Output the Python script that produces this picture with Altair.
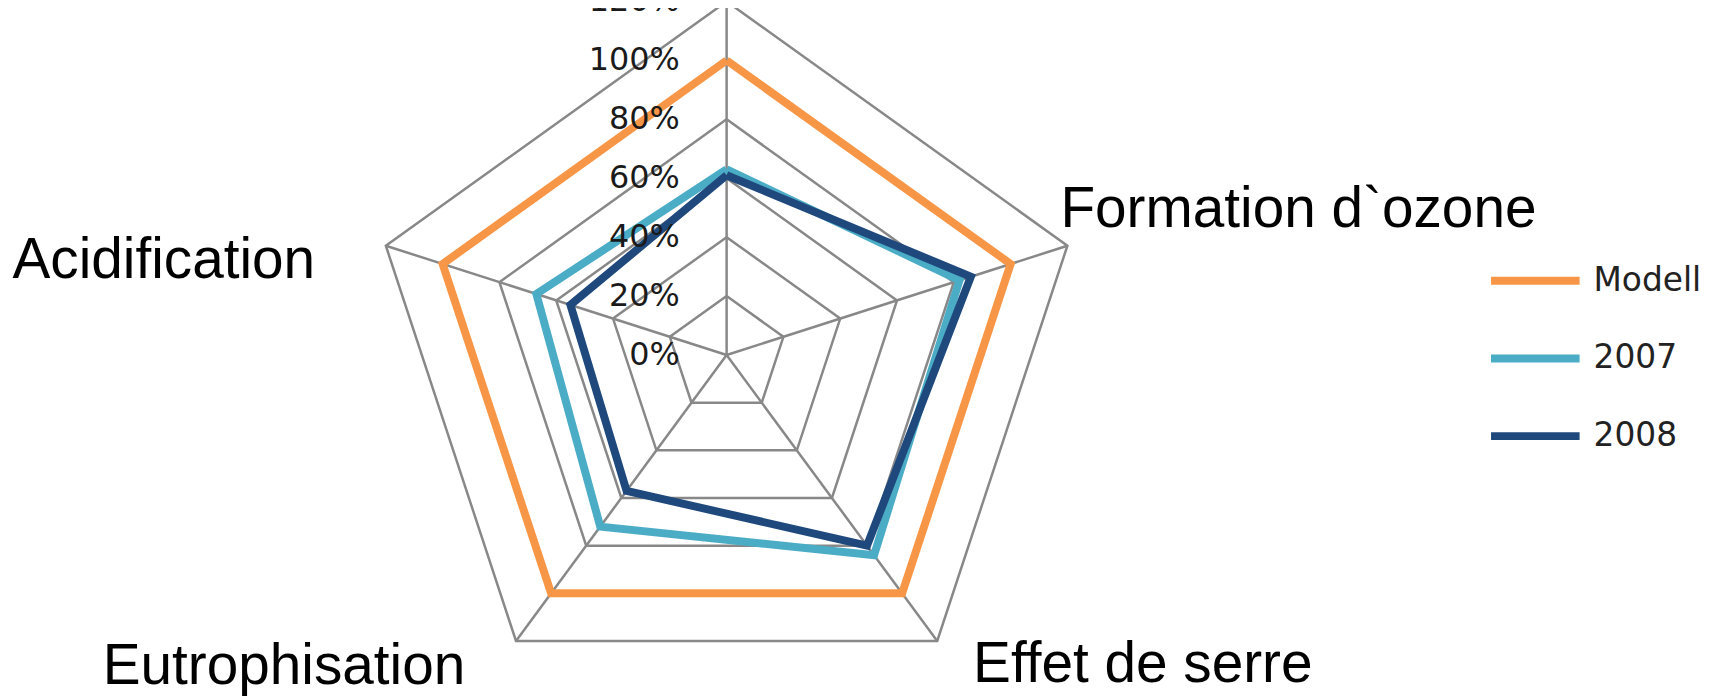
import altair as alt
import pandas as pd

# ---- data ----
categories = ["", "Formation d`ozone", "Effet de serre", "Eutrophisation", "Acidification"]
series_names = ["Modell", "2007", "2008"]
modell = [100, 100, 100, 100, 100]
y2007 = [63, 82, 84, 72, 67]
y2008 = [61, 86, 80, 57, 55]
ring_levels = [20, 40, 60, 80, 100, 120]
tick_values = [0, 20, 40, 60, 80, 100, 120]
tick_labels = ["0%", "20%", "40%", "60%", "80%", "100%", "120%"]
series_colors = ["#F79646", "#4BACC6", "#1F497D"]

N = len(categories)

series_rows = []
for name, vals in zip(series_names, [modell, y2007, y2008]):
    for k in range(N + 1):
        i = k % N
        series_rows.append({"series": name, "k": k, "idx": i, "value": vals[i]})
series_df = pd.DataFrame(series_rows)

ring_rows = []
for lvl in ring_levels:
    for k in range(N + 1):
        ring_rows.append({"level": lvl, "k": k, "idx": k % N, "value": lvl})
ring_df = pd.DataFrame(ring_rows)

spoke_df = pd.DataFrame({"idx": list(range(N)), "value": [max(ring_levels)] * N})
label_df = pd.DataFrame({"idx": list(range(N)), "category": categories,
                         "value": [max(ring_levels)] * N})
tick_df = pd.DataFrame({"value": tick_values, "label": tick_labels})

# ---- layout / scales ----
W, H = 1709, 692
CX, CY = 722, 347          # centre in svg pixels
PX_X, PX_Y = 3.0, 2.96     # pixels per percent
xs = alt.Scale(domain=[-CX / PX_X, (W - CX) / PX_X], nice=False, zero=False)
ys = alt.Scale(domain=[-(H - CY) / PX_Y, CY / PX_Y], nice=False, zero=False)


def polar(ch):
    return ch.transform_calculate(
        theta="2*PI*datum.idx/%d" % N,
    ).transform_calculate(
        px="datum.value*sin(datum.theta)",
        py="datum.value*cos(datum.theta)",
        zero="0",
    )


GRID = "#888888"

rings = polar(alt.Chart(ring_df)).mark_line(color=GRID, strokeWidth=2.5).encode(
    x=alt.X("px:Q", scale=xs, axis=None),
    y=alt.Y("py:Q", scale=ys, axis=None),
    detail="level:N",
    order="k:Q",
)

spokes = polar(alt.Chart(spoke_df)).mark_rule(color=GRID, strokeWidth=2.5).encode(
    x=alt.X("zero:Q", scale=xs, axis=None),
    y=alt.Y("zero:Q", scale=ys, axis=None),
    x2="px:Q",
    y2="py:Q",
)

lines = polar(alt.Chart(series_df)).mark_line(strokeWidth=8, strokeJoin="miter").encode(
    x=alt.X("px:Q", scale=xs, axis=None),
    y=alt.Y("py:Q", scale=ys, axis=None),
    color=alt.Color(
        "series:N",
        sort=series_names,
        scale=alt.Scale(domain=series_names, range=series_colors),
        legend=alt.Legend(
            title=None, orient="none", legendX=1486, legendY=224,
            symbolType="stroke", symbolSize=89 * 89, symbolStrokeWidth=8,
            labelFont="DejaVu Sans", labelFontSize=33, labelColor="#222222",
            labelOffset=10, rowPadding=12, padding=0,
        ),
    ),
    order="k:Q",
)

ticks = polar(alt.Chart(tick_df).transform_calculate(idx="0")).mark_text(
    align="right", baseline="middle", dx=-47, fontSize=32,
    font="DejaVu Sans", color="#1a1a1a",
).encode(
    x=alt.X("zero:Q", scale=xs, axis=None),
    y=alt.Y("py:Q", scale=ys, axis=None),
    text="label:N",
)

LABEL_FONT = "Liberation Sans, Arial, sans-serif"
label_styles = {
    1: dict(align="left", dx=-7, dy=-19),
    2: dict(align="left", dx=36, dy=41),
    3: dict(align="right", dx=-51, dy=43),
    4: dict(align="right", dx=-71, dy=32),
}
label_layers = []
for i, st in label_styles.items():
    label_layers.append(
        polar(alt.Chart(label_df).transform_filter("datum.idx == %d" % i)).mark_text(
            baseline="alphabetic", fontSize=57, font=LABEL_FONT, color="black", **st
        ).encode(
            x=alt.X("px:Q", scale=xs, axis=None),
            y=alt.Y("py:Q", scale=ys, axis=None),
            text="category:N",
        )
    )

chart = alt.layer(rings, spokes, lines, ticks, *label_layers).properties(
    width=W, height=H, padding=0,
    autosize=alt.AutoSizeParams(type="none"),
    background="white",
).configure_view(strokeWidth=0)

chart.save("out.html", embed_options={"renderer": "svg", "actions": False})
